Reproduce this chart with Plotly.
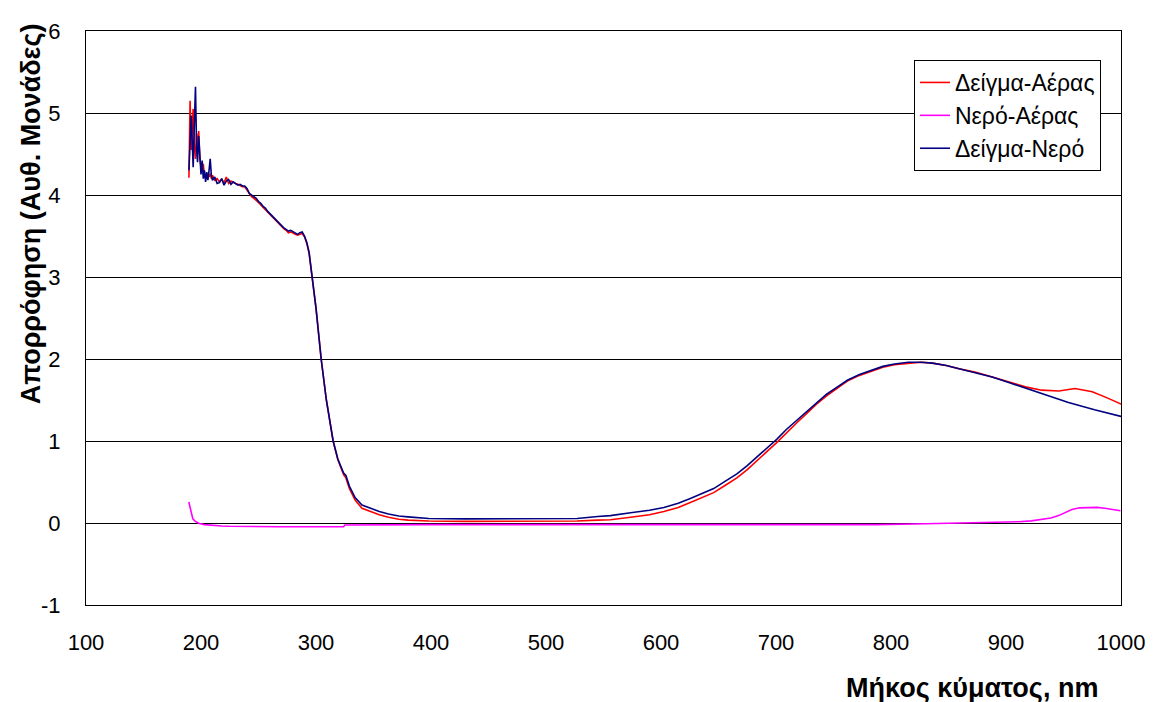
import plotly.graph_objects as go

# Δείγμα-Αέρας (red)
wl_sample_air = [189.5, 190.5, 191.5, 192.5, 193.2, 194.2, 195.2, 196.2, 197.0, 198.0, 199.0, 200.0,
                 201.0, 202.0, 203.0, 204.0, 205.0, 206.0, 207.0, 208.0, 209.0, 210.0, 212, 214, 216,
                 218, 220, 222, 224, 226, 228, 230, 232, 234, 236, 238, 240, 242, 244, 246, 248, 250,
                 252, 254, 256, 258, 260, 262, 264, 266, 268, 270, 272, 274, 276, 278, 280, 282, 284,
                 286, 288, 290, 292, 294, 296.7, 300, 304.5, 309, 314.9, 319, 324, 326, 329, 334, 340,
                 348.6, 355, 363, 372, 380, 398, 430, 480, 527, 545, 556, 573.6, 590, 602.5, 615, 625.5,
                 636, 645.8, 656, 666, 675, 683.2, 692, 700.6, 709, 717.9, 727, 735.2, 744, 752.5, 762,
                 772.6, 782, 792.9, 803, 815, 826, 836, 848, 859, 873, 888, 903, 917, 931, 946, 960,
                 975, 989, 1000]
abs_sample_air = [4.21, 5.15, 4.55, 4.90, 5.05, 4.60, 4.44, 4.75, 4.50, 4.78, 4.44, 4.35,
                  4.30, 4.38, 4.22, 4.26, 4.20, 4.25, 4.22, 4.26, 4.20, 4.24, 4.18, 4.20, 4.16,
                  4.19, 4.15, 4.22, 4.14, 4.17, 4.15, 4.14, 4.13, 4.11, 4.10, 4.10, 4.06, 4.03, 3.98, 3.96, 3.94, 3.91,
                  3.88, 3.85, 3.83, 3.79, 3.76, 3.73, 3.70, 3.67, 3.64, 3.61, 3.59, 3.57, 3.54, 3.55, 3.53, 3.52, 3.51,
                  3.52, 3.53, 3.49, 3.41, 3.29, 3.00, 2.62, 2.00, 1.50, 1.00, 0.77, 0.59, 0.55, 0.42, 0.28, 0.18,
                  0.13, 0.10, 0.07, 0.045, 0.035, 0.025, 0.02, 0.02, 0.025, 0.035, 0.04, 0.07, 0.10, 0.14, 0.19, 0.25,
                  0.31, 0.37, 0.46, 0.55, 0.65, 0.76, 0.87, 0.98, 1.10, 1.22, 1.34, 1.45, 1.55, 1.64, 1.73,
                  1.80, 1.85, 1.90, 1.93, 1.95, 1.96, 1.95, 1.92, 1.88, 1.84, 1.78, 1.72, 1.66, 1.62, 1.61, 1.64,
                  1.60, 1.52, 1.45]

# Νερό-Αέρας (magenta)
wl_water_air = [189.4, 190.5, 191.5, 192.9, 195, 198.6, 203, 210, 218, 225, 240, 268, 300, 324, 325, 354,
                400, 500, 600, 700, 787, 830, 873.6, 900, 911, 922, 931.3, 939, 945.7, 952, 957.3, 964,
                971.7, 979, 986, 993, 999.5]
abs_water_air = [0.256, 0.18, 0.11, 0.05, 0.02, -0.005, -0.02, -0.03, -0.037, -0.04, -0.043, -0.045, -0.045,
                 -0.045, -0.025, -0.02, -0.02, -0.02, -0.02, -0.02, -0.02, -0.01, 0.0, 0.008, 0.016, 0.026,
                 0.04, 0.06, 0.09, 0.13, 0.165, 0.185, 0.19, 0.19, 0.18, 0.165, 0.15]

# Δείγμα-Νερό (navy)
wl_sample_water = [189.5, 190.5, 191.5, 192.5, 193.2, 194.2, 195.2, 196.2, 197.0, 198.0, 199.0, 200.0,
                   201.0, 202.0, 203.0, 204.0, 205.0, 206.0, 207.0, 208.0, 209.0, 210.0, 212, 214, 216,
                   218, 220, 222, 224, 226, 228, 230, 232, 234, 236, 238, 240, 242, 244, 246, 248, 250,
                   252, 254, 256, 258, 260, 262, 264, 266, 268, 270, 272, 274, 276, 278, 280, 282, 284,
                   286, 288, 290, 292, 294, 296.7, 300, 304.5, 309, 314.9, 319, 324, 326, 329, 334, 340,
                   348.6, 355, 363, 372, 380, 398, 430, 480, 527, 545, 556, 573.6, 590, 602.5, 615, 625.5,
                   636, 645.8, 656, 666, 675, 683.2, 692, 700.6, 709, 717.9, 727, 735.2, 744, 752.5, 762,
                   772.6, 782, 792.9, 803, 815, 826, 836, 848, 859, 873, 888, 903, 919.7, 937, 954.3, 977, 1000]
abs_sample_water = [4.30, 4.70, 4.97, 4.60, 4.34, 4.85, 5.32, 4.55, 4.40, 4.72, 4.45, 4.25,
                    4.42, 4.20, 4.30, 4.16, 4.28, 4.18, 4.30, 4.44, 4.24, 4.18, 4.22, 4.14, 4.15,
                    4.20, 4.12, 4.17, 4.19, 4.13, 4.16, 4.14, 4.12, 4.13, 4.11, 4.11, 4.08, 4.02, 4.00, 3.97, 3.96, 3.92,
                    3.90, 3.86, 3.84, 3.80, 3.77, 3.74, 3.71, 3.68, 3.66, 3.62, 3.60, 3.58, 3.56, 3.57, 3.55, 3.53, 3.52,
                    3.54, 3.55, 3.50, 3.42, 3.30, 3.00, 2.62, 2.00, 1.50, 1.00, 0.78, 0.61, 0.58, 0.45, 0.31, 0.22,
                    0.17, 0.14, 0.11, 0.085, 0.075, 0.055, 0.05, 0.05, 0.055, 0.08, 0.09, 0.125, 0.155, 0.19, 0.24, 0.30,
                    0.36, 0.42, 0.51, 0.60, 0.70, 0.80, 0.91, 1.02, 1.14, 1.25, 1.37, 1.47, 1.57, 1.65, 1.74,
                    1.81, 1.86, 1.91, 1.94, 1.96, 1.96, 1.95, 1.92, 1.88, 1.83, 1.78, 1.71, 1.63, 1.55, 1.47, 1.38, 1.30]

x_ticks = [100, 200, 300, 400, 500, 600, 700, 800, 900, 1000]
y_ticks = [-1, 0, 1, 2, 3, 4, 5, 6]

FONT = "Liberation Sans, Arial, sans-serif"

fig = go.Figure()
fig.add_trace(go.Scatter(x=wl_sample_air, y=abs_sample_air, mode="lines", name="Δείγμα-Αέρας",
                         line=dict(color="#FF0000", width=1.6)))
fig.add_trace(go.Scatter(x=wl_water_air, y=abs_water_air, mode="lines", name="Νερό-Αέρας",
                         line=dict(color="#FF00FF", width=1.6)))
fig.add_trace(go.Scatter(x=wl_sample_water, y=abs_sample_water, mode="lines", name="Δείγμα-Νερό",
                         line=dict(color="#000080", width=1.6)))

fig.update_layout(
    width=1157, height=702,
    margin=dict(l=86, r=31, t=31, b=97),
    paper_bgcolor="white", plot_bgcolor="white",
    font=dict(family=FONT, size=22, color="black"),
    showlegend=True,
    legend=dict(x=0.8, y=0.9495, xanchor="left", yanchor="top",
                bordercolor="black", borderwidth=1, bgcolor="white",
                font=dict(family=FONT, size=23, color="black"),
                itemwidth=30, tracegroupgap=0),
    xaxis=dict(range=[100, 1000], tickvals=x_ticks, ticktext=[str(v) for v in x_ticks],
               showgrid=False, zeroline=False, showline=True, linecolor="black", linewidth=1,
               mirror=True, ticks="", ticklabelstandoff=18,
               tickfont=dict(family=FONT, size=22, color="black")),
    yaxis=dict(range=[-1, 6], tickvals=y_ticks, ticktext=[str(v) for v in y_ticks],
               showgrid=True, gridcolor="black", gridwidth=1, zeroline=False,
               showline=True, linecolor="black", linewidth=1, mirror=True, ticks="",
               ticklabelstandoff=20,
               tickfont=dict(family=FONT, size=22, color="black")),
    annotations=[
        dict(text="<b>Μήκος κύματος, nm</b>", xref="paper", yref="paper", x=0.856, y=-0.145,
             xanchor="center", yanchor="middle", showarrow=False,
             font=dict(family=FONT, size=27, color="black")),
        dict(text="<b>Απορρόφηση (Αυθ. Μονάδες)</b>", xref="paper", yref="paper", x=-0.053, y=0.681,
             xanchor="center", yanchor="middle", textangle=-90, showarrow=False,
             font=dict(family=FONT, size=27, color="black")),
    ],
)

fig.write_html("out.html")
